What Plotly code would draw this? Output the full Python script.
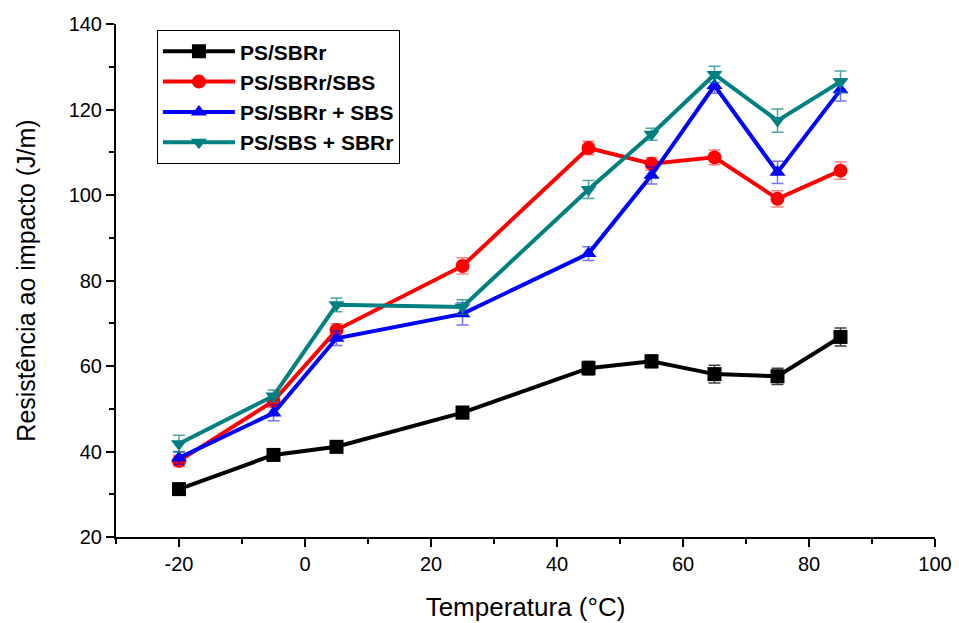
import plotly.graph_objects as go

# Test temperatures (°C)
temperatura = [-20, -5, 5, 25, 45, 55, 65, 75, 85]

# Impact strength (J/m) per blend, with standard deviations
ps_sbrr = [31.2, 39.2, 41.1, 49.1, 59.5, 61.1, 58.1, 57.6, 66.8]
ps_sbrr_err = [1.0, 1.2, 1.4, 1.4, 1.6, 1.5, 2.1, 1.9, 2.1]

ps_sbrr_sbs = [37.8, 51.8, 68.4, 83.4, 111.0, 107.3, 108.8, 99.1, 105.7]
ps_sbrr_sbs_err = [1.3, 1.5, 1.5, 1.9, 1.6, 1.5, 1.7, 1.9, 2.0]

ps_sbrr_mais_sbs = [38.5, 49.0, 66.5, 72.2, 86.3, 104.6, 125.6, 105.3, 124.6]
ps_sbrr_mais_sbs_err = [1.5, 1.8, 1.7, 2.6, 1.6, 2.0, 1.8, 2.6, 2.6]

ps_sbs_mais_sbrr = [41.8, 53.0, 74.3, 73.8, 101.3, 114.2, 128.2, 117.4, 126.5]
ps_sbs_mais_sbrr_err = [2.0, 1.4, 1.6, 1.7, 2.1, 1.4, 1.9, 2.7, 2.5]

# Axis tick labels
x_ticks = [-20, 0, 20, 40, 60, 80, 100]
x_tick_labels = ["-20", "0", "20", "40", "60", "80", "100"]
y_ticks = [20, 40, 60, 80, 100, 120, 140]
y_tick_labels = ["20", "40", "60", "80", "100", "120", "140"]

nomes = ["PS/SBRr", "PS/SBRr/SBS", "PS/SBRr + SBS", "PS/SBS + SBRr"]
cores = ["#000000", "#FF0000", "#0000FF", "#008080"]
cores_erro = ["rgba(0,0,0,0.75)", "rgba(255,0,0,0.5)", "rgba(0,0,255,0.55)", "rgba(0,128,128,0.7)"]
simbolos = ["square", "circle", "triangle-up", "triangle-down"]

series = [
    (ps_sbrr, ps_sbrr_err),
    (ps_sbrr_sbs, ps_sbrr_sbs_err),
    (ps_sbrr_mais_sbs, ps_sbrr_mais_sbs_err),
    (ps_sbs_mais_sbrr, ps_sbs_mais_sbrr_err),
]

fig = go.Figure()
for (valores, erros), nome, cor, cor_erro, simbolo in zip(series, nomes, cores, cores_erro, simbolos):
    fig.add_trace(go.Scatter(
        x=temperatura, y=valores, name=nome, mode="lines+markers",
        line=dict(color=cor, width=4),
        marker=dict(symbol=simbolo, size=14, color=cor, line=dict(width=0)),
        error_y=dict(type="data", array=erros, visible=True,
                     color=cor_erro, thickness=1.5, width=6),
    ))

fonte = "Liberation Sans, Arial, sans-serif"
eixo = dict(
    showline=True, linecolor="black", linewidth=2, mirror=False,
    ticks="outside", ticklen=8, tickwidth=2, tickcolor="black",
    showgrid=False, zeroline=False, automargin=False,
    tickfont=dict(family=fonte, size=20, color="black"),
)

fig.update_layout(
    width=959, height=623,
    margin=dict(l=116, r=24, t=24, b=86),
    paper_bgcolor="white", plot_bgcolor="white",
    xaxis=dict(
        **eixo, range=[-30, 100], tickmode="array",
        tickvals=x_ticks, ticktext=x_tick_labels,
        minor=dict(ticks="outside", ticklen=5, tickwidth=2, tickcolor="black", dtick=10, tick0=0),
        title=dict(text="Temperatura (°C)", font=dict(family=fonte, size=26, color="black"), standoff=24),
    ),
    yaxis=dict(
        **eixo, range=[20, 140], tickmode="array",
        tickvals=y_ticks, ticktext=y_tick_labels,
        minor=dict(ticks="outside", ticklen=5, tickwidth=2, tickcolor="black", dtick=10, tick0=0),
        title=dict(text="Resistência ao impacto (J/m)", font=dict(family=fonte, size=25, color="black"), standoff=26),
    ),
    legend=dict(
        x=0.05, y=0.988, xanchor="left", yanchor="top",
        bordercolor="black", borderwidth=1, bgcolor="white",
        font=dict(family=fonte, size=21, color="black", weight="bold"),
        itemwidth=72,
    ),
    showlegend=True,
)

fig.write_html("out.html")
